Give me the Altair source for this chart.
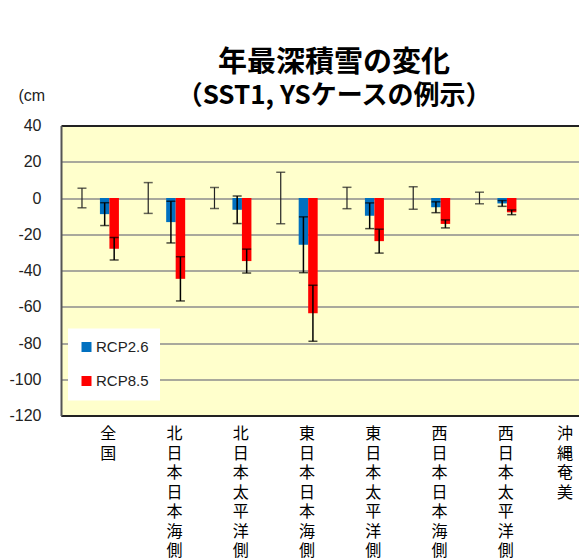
import altair as alt
import pandas as pd

categories = ["全国", "北日本日本海側", "北日本太平洋側", "東日本日本海側",
              "東日本太平洋側", "西日本日本海側", "西日本太平洋側", "沖縄　奄美"]
present_err = [5.4, 8.5, 5.8, 14.2, 5.9, 6.2, 3.2, None]
rcp26 = [-8.9, -13.3, -6.5, -25.8, -9.8, -5.1, -3.0, None]
rcp26_err = [6.3, 11.5, 7.6, 15.4, 7.1, 3.0, 1.6, None]
rcp85 = [-28.0, -44.6, -34.8, -63.6, -23.8, -14.3, -7.9, None]
rcp85_err = [6.2, 12.2, 6.6, 15.4, 6.6, 2.2, 1.3, None]
series = ["RCP2.6", "RCP8.5"]
offset_slots = ["s1", "s2", "s3", "s4", "RCP2.6", "RCP8.5"]
colors = ["#0070C0", "#FF0000"]
y_ticks = [-120, -100, -80, -60, -40, -20, 0, 20, 40]

rows = []
for i, c in enumerate(categories):
    for s, vals, errs in [("RCP2.6", rcp26, rcp26_err), ("RCP8.5", rcp85, rcp85_err)]:
        if vals[i] is not None:
            rows.append({"cat": c, "series": s, "value": vals[i],
                         "lo": vals[i] - errs[i], "hi": vals[i] + errs[i]})
bars = pd.DataFrame(rows)

prows = []
for i, c in enumerate(categories):
    if present_err[i] is not None:
        prows.append({"cat": c, "series": "現在", "lo": -present_err[i], "hi": present_err[i]})
present = pd.DataFrame(prows)

edge = "datum.value == 40 || datum.value == -120"
last_cat = "datum.value == '" + categories[-1] + "'"
xscale = alt.Scale(domain=categories, paddingInner=0, paddingOuter=0)
xaxis = alt.Axis(title=None, labelAngle=0, labelExpr="split(datum.label, '')",
                 labelBaseline="top", labelAlign="center", labelPadding=10,
                 labelLineHeight=19.5, labelFontSize=16, labelFont="Noto Sans CJK JP",
                 labelColor="#000",
                 labelOffset=alt.condition(last_cat, alt.value(7), alt.value(14)),
                 ticks=False, domain=True,
                 domainColor="#222", domainWidth=2, grid=False, labelLimit=0)
yscale = alt.Scale(domain=[-120, 40], nice=False, zero=False)
yaxis = alt.Axis(values=y_ticks, title="(cm", titleAngle=0, titleAlign="left",
                 titleBaseline="top", titleX=-43, titleY=-38, titleFontSize=16,
                 titleFont="Liberation Sans", titleFontWeight="normal", titleColor="#222",
                 labelExpr="replace(datum.label, '\u2212', '-')",
                 labelFontSize=16, labelFont="Liberation Sans", labelColor="#222",
                 labelPadding=20, labelOverlap=False, ticks=False,
                 domain=True, domainColor="#555", domainWidth=2, grid=True,
                 gridColor=alt.condition(edge, alt.value("#222"), alt.value("#8c8c8c")),
                 gridWidth=alt.condition(edge, alt.value(2), alt.value(1.5)))
offscale = alt.Scale(domain=offset_slots, paddingInner=0, paddingOuter=0.487, align=0.1)
poffscale = alt.Scale(domain=["現在"], paddingInner=0, paddingOuter=1, align=0.225)

X = alt.X("cat:N", scale=xscale, axis=xaxis, sort=categories)
XO = alt.XOffset("series:N", scale=offscale)
PXO = alt.XOffset("series:N", scale=poffscale)

base = alt.Chart(bars)
bar = base.mark_bar().encode(
    x=X, xOffset=XO,
    y=alt.Y("value:Q", scale=yscale, axis=yaxis),
    color=alt.Color("series:N", scale=alt.Scale(domain=series, range=colors),
                    legend=alt.Legend(orient="none", legendX=7, legendY=203, title=None,
                                      fillColor="white", padding=11, symbolType="square",
                                      symbolSize=100, symbolStrokeWidth=0,
                                      labelFontSize=15, labelFont="Liberation Sans",
                                      labelColor="#222", rowPadding=18, labelOffset=2)),
)
err_rule = base.mark_rule(color="#000", strokeWidth=1.5).encode(
    x=X, xOffset=XO,
    y=alt.Y("lo:Q", scale=yscale, axis=yaxis), y2="hi:Q",
)
cap_lo = base.mark_tick(color="#000", size=9, thickness=1.5).encode(
    x=X, xOffset=XO, y=alt.Y("lo:Q", scale=yscale, axis=yaxis),
)
cap_hi = base.mark_tick(color="#000", size=9, thickness=1.5).encode(
    x=X, xOffset=XO, y=alt.Y("hi:Q", scale=yscale, axis=yaxis),
)

pbase = alt.Chart(present)
p_rule = pbase.mark_rule(color="#222", strokeWidth=1.2).encode(
    x=X, xOffset=PXO,
    y=alt.Y("lo:Q", scale=yscale, axis=yaxis), y2="hi:Q",
)
p_lo = pbase.mark_tick(color="#222", size=9, thickness=1.5).encode(
    x=X, xOffset=PXO, y=alt.Y("lo:Q", scale=yscale, axis=yaxis),
)
p_hi = pbase.mark_tick(color="#222", size=9, thickness=1.5).encode(
    x=X, xOffset=PXO, y=alt.Y("hi:Q", scale=yscale, axis=yaxis),
)

chart = alt.layer(bar, err_rule, cap_lo, cap_hi, p_rule, p_lo, p_hi).resolve_scale(
    xOffset="independent"
).properties(
    width=530, height=290, background="white",
    autosize=alt.AutoSizeParams(type="none"),
    title=alt.TitleParams(
        text="年最深積雪の変化", subtitle="（SST1, YSケースの例示）",
        font="Noto Sans CJK JP", fontSize=29, fontWeight="bold", color="#000",
        subtitleFont="Noto Sans CJK JP", subtitleFontSize=26, subtitleFontWeight="bold",
        subtitleColor="#000", subtitlePadding=5, anchor="middle", frame="group",
        offset=-21, dx=8,
    ),
    padding={"left": 53, "top": 117.5, "right": -12, "bottom": 144},
).configure_view(fill="#FFFFCC", stroke=None)

chart.save("out.html", embed_options={"renderer": "svg", "actions": False})
